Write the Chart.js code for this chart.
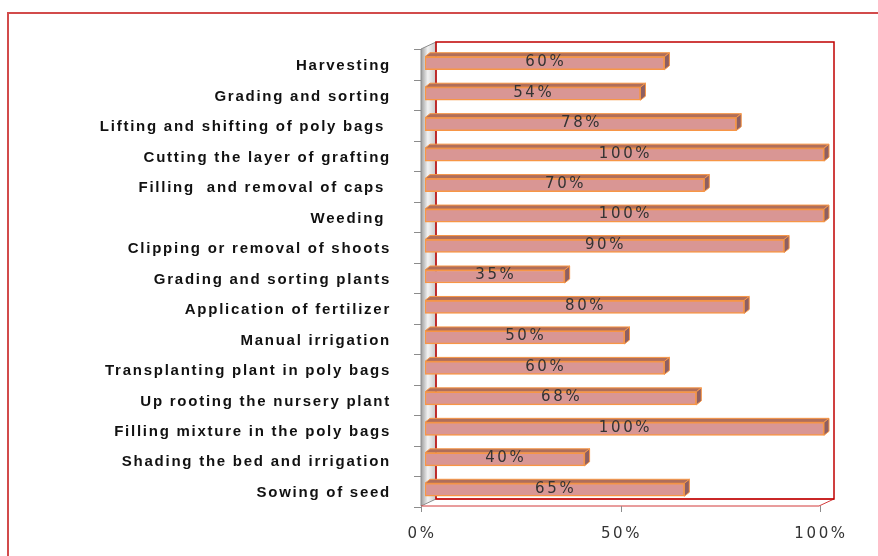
<!DOCTYPE html>
<html>
<head>
<meta charset="utf-8">
<script src="https://cdn.jsdelivr.net/npm/chart.js@4.4.0/dist/chart.umd.min.js"></script>
<style>
  html, body { margin: 0; padding: 0; background: #fff; }
  #wrap { width: 878px; height: 556px; position: relative; }
</style>
</head>
<body>
<div id="wrap"><canvas id="taskChart" width="878" height="556"></canvas></div>
<script>
// Dados do gráfico
const tasks = [
    'Harvesting',
    'Grading and sorting',
    'Lifting and shifting of poly bags ',
    'Cutting the layer of grafting',
    'Filling  and removal of caps ',
    'Weeding ',
    'Clipping or removal of shoots',
    'Grading and sorting plants',
    'Application of fertilizer',
    'Manual irrigation',
    'Transplanting plant in poly bags',
    'Up rooting the nursery plant',
    'Filling mixture in the poly bags',
    'Shading the bed and irrigation',
    'Sowing of seed'
];
const percentages = [60, 54, 78, 100, 70, 100, 90, 35, 80, 50, 60, 68, 100, 40, 65];
const xTicks = [0, 50, 100];

const DEPTH_X = 5, DEPTH_Y = 4;
const LABEL_SPACING = '1.75px';
const NUM_SPACING = '2.6px';

// Moldura, paredes e chão em "3D"
const framePlugin = {
    id: 'frame3d',
    beforeDraw(chart) {
        // espaçamento entre letras (como no original)
        chart.ctx.letterSpacing = LABEL_SPACING;
        const xs = chart.scales.x;
        if (!xs._spaced) {
            const orig = xs.drawLabels;
            xs.drawLabels = function(area) {
                this.ctx.letterSpacing = NUM_SPACING;
                orig.call(this, area);
                this.ctx.letterSpacing = LABEL_SPACING;
            };
            xs._spaced = true;
        }
    },
    beforeDatasetsDraw(chart) {
        const ctx = chart.ctx;
        const a = chart.chartArea;
        const l = a.left - 4, r = a.right - 5, b = a.bottom + 1;
        ctx.save();
        // borda externa
        ctx.strokeStyle = '#d24b4b';
        ctx.lineWidth = 2;
        ctx.beginPath();
        ctx.moveTo(8, 556); ctx.lineTo(8, 13); ctx.lineTo(878, 13);
        ctx.stroke();
        // parede lateral esquerda
        const g = ctx.createLinearGradient(l, 0, l + 15, 0);
        g.addColorStop(0, '#9c9c9c');
        g.addColorStop(0.45, '#f2f2f2');
        g.addColorStop(1, '#c8c8c8');
        ctx.fillStyle = g;
        ctx.beginPath();
        ctx.moveTo(l, a.top + 1);
        ctx.lineTo(l + 15, a.top - 6);
        ctx.lineTo(l + 15, b - 7);
        ctx.lineTo(l, b);
        ctx.closePath();
        ctx.fill();
        ctx.strokeStyle = '#8c8c8c';
        ctx.lineWidth = 1;
        ctx.stroke();
        // chão
        ctx.strokeStyle = '#d23a3a';
        ctx.beginPath();
        ctx.moveTo(l + 15, b - 7);
        ctx.lineTo(r + 15, b - 7);
        ctx.lineTo(r, b);
        ctx.lineTo(l, b);
        ctx.stroke();
        // parede do fundo
        ctx.strokeStyle = '#c00000';
        ctx.lineWidth = 1.5;
        ctx.strokeRect(l + 15, a.top - 6, r - l, b - 7 - (a.top - 6));
        // marcas do eixo y
        ctx.strokeStyle = '#8c8c8c';
        ctx.lineWidth = 1;
        const n = tasks.length;
        const step = (b - a.top) / n;
        for (let i = 0; i <= n; i++) {
            const y = Math.round(a.top + 1 + step * i) + 0.5;
            ctx.beginPath();
            ctx.moveTo(l - 7, y); ctx.lineTo(l, y);
            ctx.stroke();
        }
        // marcas do eixo x
        const xs = chart.scales.x;
        xTicks.forEach(v => {
            const x = Math.round(xs.getPixelForValue(v) - 4) + 0.5;
            ctx.beginPath();
            ctx.moveTo(x, b); ctx.lineTo(x, b + 6);
            ctx.stroke();
        });
        ctx.restore();
    },
    afterDatasetsDraw(chart) {
        const ctx = chart.ctx;
        const meta = chart.getDatasetMeta(0);
        ctx.save();
        meta.data.forEach((bar, i) => {
            const p = bar.getProps(['x', 'y', 'base', 'height'], true);
            const x0 = p.base, x1 = p.x;
            const yt = p.y - p.height / 2, yb = p.y + p.height / 2;
            // face de cima
            ctx.fillStyle = '#b06e5a';
            ctx.strokeStyle = '#f79646';
            ctx.lineWidth = 1;
            ctx.beginPath();
            ctx.moveTo(x0, yt);
            ctx.lineTo(x0 + DEPTH_X, yt - DEPTH_Y);
            ctx.lineTo(x1 + DEPTH_X, yt - DEPTH_Y);
            ctx.lineTo(x1, yt);
            ctx.closePath();
            ctx.fill();
            ctx.stroke();
            // face lateral
            ctx.fillStyle = '#8e5f62';
            ctx.beginPath();
            ctx.moveTo(x1, yt);
            ctx.lineTo(x1 + DEPTH_X, yt - DEPTH_Y);
            ctx.lineTo(x1 + DEPTH_X, yb - DEPTH_Y);
            ctx.lineTo(x1, yb);
            ctx.closePath();
            ctx.fill();
            ctx.stroke();
            // rótulo do valor
            ctx.letterSpacing = NUM_SPACING;
            ctx.fillStyle = '#333';
            ctx.font = '15px "DejaVu Sans"';
            ctx.textAlign = 'center';
            ctx.textBaseline = 'middle';
            ctx.fillText(percentages[i] + '%', (x0 + x1) / 2 + 1, p.y - 1);
        });
        ctx.restore();
    }
};

const ctx = document.getElementById('taskChart').getContext('2d');
new Chart(ctx, {
    type: 'bar',
    data: {
        labels: tasks,
        datasets: [{
            data: percentages,
            backgroundColor: '#d99694',
            borderColor: '#f79646',
            borderWidth: 1.5,
            borderSkipped: false,
            barThickness: 13
        }]
    },
    options: {
        indexAxis: 'y',
        responsive: false,
        animation: false,
        layout: { padding: { top: 48, right: 54, left: 0, bottom: 0 } },
        plugins: {
            legend: { display: false },
            tooltip: { enabled: false }
        },
        scales: {
            x: {
                min: 0,
                max: 100,
                afterBuildTicks(scale) {
                    scale.ticks = xTicks.map(v => ({ value: v }));
                },
                afterFit(scale) { scale.height = 51; },
                grid: { display: false, drawTicks: false },
                border: { display: false },
                ticks: {
                    padding: 20,
                    labelOffset: -3,
                    color: '#333',
                    font: { family: 'DejaVu Sans', size: 15 },
                    callback: v => v + '%'
                }
            },
            y: {
                afterFit(scale) { scale.width = 425; },
                grid: { display: false, drawTicks: false },
                border: { display: false },
                ticks: {
                    padding: 34,
                    labelOffset: 3,
                    color: '#111',
                    autoSkip: false,
                    font: { family: 'Liberation Sans', size: 15, weight: 'bold' }
                }
            }
        }
    },
    plugins: [framePlugin]
});
</script>
</body>
</html>
